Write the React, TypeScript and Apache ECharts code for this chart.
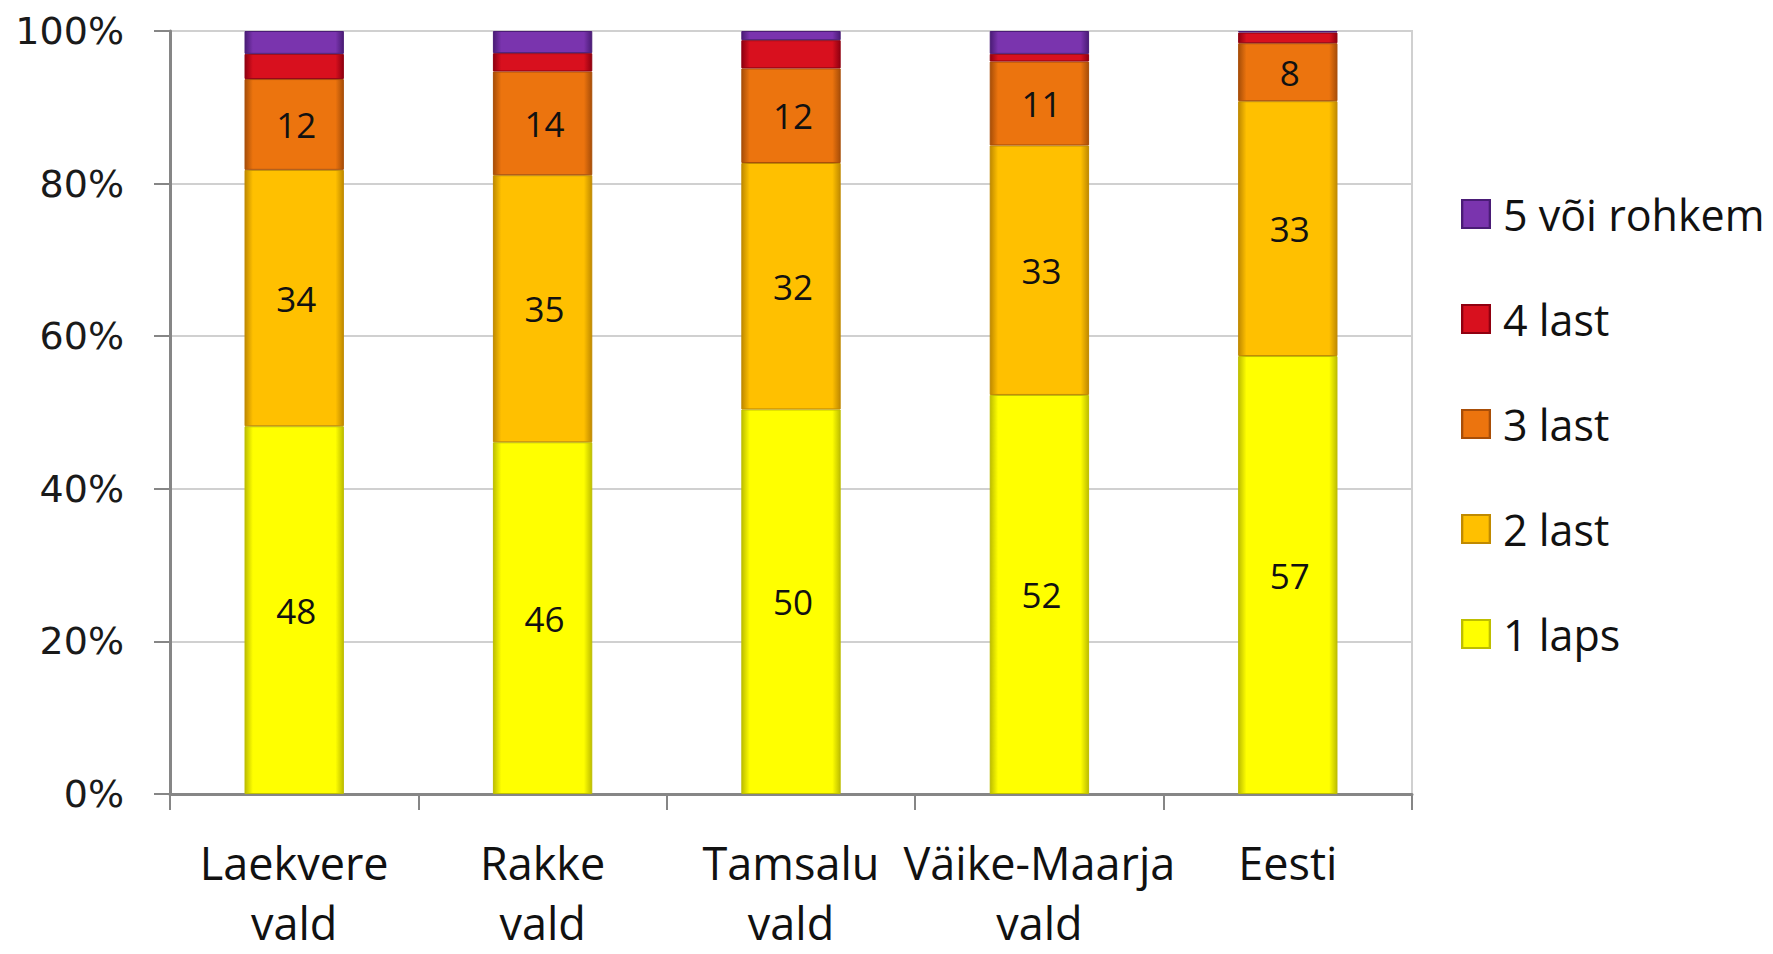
import React, { useEffect, useRef } from "react";
import * as echarts from "echarts";

const categories = ["Laekvere\nvald", "Rakke\nvald", "Tamsalu\nvald", "Väike-Maarja\nvald", "Eesti"];
const seriesNames = ["1 laps", "2 last", "3 last", "4 last", "5 või rohkem"];
const laps1 = [48.2, 46.1, 50.4, 52.3, 57.4];
const last2 = [33.6, 35.0, 32.3, 32.7, 33.4];
const last3 = [11.9, 13.6, 12.4, 11.0, 7.6];
const last4 = [3.3, 2.4, 3.7, 1.0, 1.4];
const rohkem5 = [3.0, 2.9, 1.2, 3.0, 0.2];
const yTicks = [0, 20, 40, 60, 80, 100];

const palette = [
  { base: "#FFFF00", edge: "#BEBE00" },
  { base: "#FFC000", edge: "#C08A00" },
  { base: "#EC740E", edge: "#A84E08" },
  { base: "#D8101E", edge: "#900010" },
  { base: "#7A34AE", edge: "#4A1C76" },
];

function grad(c: { base: string; edge: string }) {
  return new echarts.graphic.LinearGradient(0, 0, 1, 0, [
    { offset: 0, color: c.edge },
    { offset: 0.08, color: c.base },
    { offset: 0.92, color: c.base },
    { offset: 1, color: c.edge },
  ]);
}

export default function App() {
  const ref = useRef<HTMLDivElement>(null);
  useEffect(() => {
    if (!ref.current) return;
    const chart = echarts.init(ref.current, undefined, { renderer: "svg" });
    const dataSets = [laps1, last2, last3, last4, rohkem5];
    const series = dataSets.map((d, i) => ({
      name: seriesNames[i],
      type: "bar",
      stack: "total",
      barWidth: "40%",
      data: d,
      itemStyle: { color: grad(palette[i]), borderColor: palette[i].edge, borderWidth: 1 },
      label: {
        show: i < 3,
        position: "inside",
        formatter: (p: any) => String(Math.round(p.value)),
        fontFamily: "Open Sans",
        fontSize: 35,
        color: "#111",
        offset: [2, 0],
      },
    }));
    chart.setOption({
      animation: false,
      backgroundColor: "#fff",
      grid: {
        left: 170,
        right: 361,
        top: 31,
        bottom: 160,
        show: true,
        borderColor: "#D0D0D0",
        borderWidth: 2,
        outerBoundsMode: "none",
        containLabel: false,
      },
      legend: {
        orient: "vertical",
        left: 1456,
        top: 187,
        itemWidth: 28,
        itemHeight: 28,
        itemGap: 61,
        icon: "rect",
        data: [...seriesNames].reverse(),
        textStyle: {
          fontFamily: "Open Sans",
          fontSize: 43,
          lineHeight: 44,
          color: "#111",
          padding: [0, 0, 0, 8],
        },
      },
      xAxis: {
        type: "category",
        data: categories,
        axisLine: { lineStyle: { color: "#868686", width: 3 } },
        axisTick: { show: true, length: 16, lineStyle: { color: "#868686", width: 2 } },
        axisLabel: {
          interval: 0,
          fontFamily: "Open Sans",
          fontSize: 45,
          lineHeight: 60,
          color: "#111",
          margin: 38,
        },
      },
      yAxis: {
        type: "value",
        min: yTicks[0],
        max: yTicks[yTicks.length - 1],
        interval: 20,
        axisLine: { show: true, lineStyle: { color: "#868686", width: 3 } },
        axisTick: { show: true, length: 16, lineStyle: { color: "#868686", width: 2 } },
        splitLine: { lineStyle: { color: "#D0D0D0", width: 2 } },
        axisLabel: {
          formatter: "{value}%",
          fontFamily: "DejaVu Sans",
          fontSize: 38,
          color: "#1a1a1a",
          margin: 46,
        },
      },
      series,
    });
    return () => chart.dispose();
  }, []);
  return (
    <div
      ref={ref}
      style={{ position: "absolute", left: 0, top: 0, width: 1773, height: 954 }}
    />
  );
}
